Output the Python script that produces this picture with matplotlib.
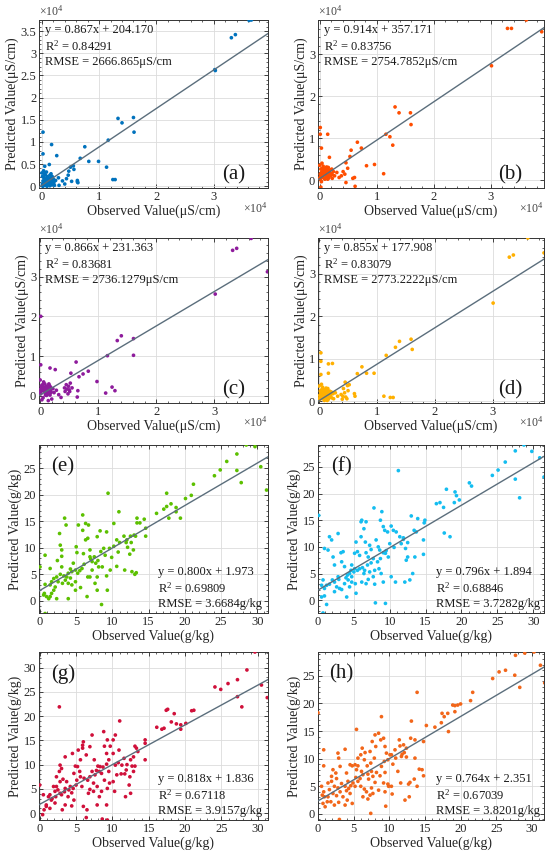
import numpy as np
import matplotlib
matplotlib.use("Agg")
import matplotlib.pyplot as plt
from matplotlib.ticker import FormatStrFormatter, AutoMinorLocator, MultipleLocator

plt.rcParams['font.family'] = ['Liberation Serif', 'DejaVu Serif']
plt.rcParams['mathtext.fontset'] = 'custom'
plt.rcParams['mathtext.rm'] = 'Liberation Serif'
plt.rcParams['mathtext.it'] = 'Liberation Serif:italic'
plt.rcParams['mathtext.default'] = 'rm'
plt.rcParams['axes.unicode_minus'] = False

# ---- data (EC panels in units of 1e4 uS/cm) ----
pts_a = [(3.62,3.74),(3.66,3.75),(3.31,3.35),(3.38,3.42),(3.02,2.63),(3.03,2.61),
         (1.33,1.53),(1.40,1.43),(1.60,1.55),(1.61,1.22),(1.16,1.04),
         (1.13,0.43),(1.24,0.15),(1.28,0.15),(0.99,0.56),(0.82,0.56),
         (0.75,0.89),(0.67,0.63),(0.62,0.10),(0.63,0.08),(0.62,0.13),
         (0.56,0.38),(0.50,0.43),(0.47,0.34),(0.46,0.25),(0.43,0.17),(0.52,0.11),
         (0.26,0.69),(0.17,0.94),(0.13,0.49),(0.02,1.22),(0.02,0.73),(0.05,0.45),
         (0.29,0.19),(0.36,0.12),(0.55,0.46),(0.40,0.05),(0.30,0.02),
         (0.01,0.05),(0.02,0.12),(0.03,0.20),(0.04,0.28),(0.05,0.10),(0.06,0.02),
         (0.07,0.15),(0.08,0.06),(0.09,0.22),(0.10,0.12),(0.11,0.04),(0.12,0.18),
         (0.13,0.10),(0.14,0.25),(0.15,0.07),(0.16,0.14),(0.17,0.20),(0.18,0.03),
         (0.19,0.11),(0.20,0.16),(0.00,0.30),(0.01,0.22),(0.03,0.35),(0.06,0.26),
         (0.08,0.32),(0.10,0.05),(0.12,0.08),(0.14,0.01),(0.16,0.28),(0.18,0.22),
         (0.21,0.08),(0.22,0.02),(0.24,0.13),(0.02,0.00),(0.04,0.07),(0.07,0.10),
         (0.09,0.00),(0.11,0.14),(0.13,0.16),(0.15,0.12),(0.05,0.17),(0.01,0.01),
         (0.03,0.04),(0.10,0.20),(0.06,0.09)]

pts_b = [(3.62,3.81),(3.29,3.61),(3.36,3.61),(3.89,3.53),(3.01,2.72),
         (1.32,1.74),(1.39,1.60),(1.59,1.60),(1.60,1.32),(1.16,1.09),(1.23,1.03),
         (1.28,0.83),(1.12,0.15),(0.96,0.37),(0.82,0.34),(0.66,0.90),(0.73,0.76),
         (0.55,0.71),(0.53,0.56),(0.61,0.06),(0.62,-0.15),(0.58,0.04),
         (0.46,0.41),(0.49,0.28),(0.41,0.20),(0.38,0.10),(0.46,-0.06),(0.44,0.14),
         (0.14,1.09),(0.17,0.54),(0.03,0.76),(0.01,1.25),(0.01,1.09),(0.02,-0.17),
         (0.30,0.18),(0.26,0.10),(0.34,0.06),(0.22,0.04),
         (0.01,0.02),(0.02,0.10),(0.03,0.18),(0.04,0.27),(0.05,0.06),(0.06,0.33),
         (0.07,0.12),(0.08,0.22),(0.09,0.02),(0.10,0.15),(0.11,0.28),(0.12,0.08),
         (0.13,0.20),(0.14,0.12),(0.15,0.30),(0.16,0.05),(0.17,0.18),(0.18,0.24),
         (0.19,0.10),(0.20,0.16),(0.21,0.26),(0.22,0.13),(0.00,0.35),(0.02,0.26),
         (0.04,0.40),(0.06,0.15),(0.08,0.04),(0.10,0.24),(0.12,0.31),(0.14,0.02),
         (0.16,0.22),(0.18,0.14),(0.24,0.20),(0.00,0.05),(0.03,-0.04),(0.05,0.20),
         (0.09,0.12),(0.11,0.19),(0.13,0.26),(0.15,0.09),(0.07,0.28),(0.01,0.14)]

pts_c = [(3.64,3.96),(3.32,3.66),(3.39,3.71),(3.92,3.12),(3.02,2.56),
         (1.33,1.39),(1.40,1.51),(1.61,1.44),(1.61,1.02),(1.16,1.01),
         (1.13,0.07),(1.24,0.22),(1.29,0.13),(0.98,0.36),(0.83,0.62),
         (0.74,0.55),(0.67,0.48),(0.62,0.85),(0.53,0.57),(0.64,-0.03),(0.65,0.13),
         (0.49,0.24),(0.46,0.17),(0.51,0.11),(0.43,0.11),(0.52,0.32),(0.48,0.05),
         (0.45,0.28),(0.55,0.20),(0.42,0.20),(0.50,0.15),
         (0.26,0.66),(0.17,0.70),(0.01,2.00),(0.01,0.78),(0.32,0.03),(0.36,-0.04),
         (0.28,0.14),(0.22,0.18),(0.24,0.08),
         (0.01,0.05),(0.02,0.12),(0.03,0.20),(0.04,0.28),(0.05,-0.05),(0.06,0.35),
         (0.07,0.10),(0.08,0.18),(0.09,0.02),(0.10,0.14),(0.11,0.24),(0.12,0.06),
         (0.13,0.19),(0.14,0.11),(0.15,0.30),(0.16,0.04),(0.17,0.16),(0.18,0.22),
         (0.19,0.09),(0.20,-0.08),(0.00,0.40),(0.02,0.25),(0.04,0.15),(0.06,0.21),
         (0.08,0.30),(0.10,0.07),(0.12,0.16),(0.14,-0.12),(0.16,0.26),(0.18,0.12),
         (0.00,0.10),(0.03,-0.10),(0.05,0.16),(0.09,0.11),(0.11,0.01),(0.13,0.25),
         (0.07,0.22),(0.01,0.17),(0.15,0.14),(0.17,0.02)]

pts_d = [(3.61,3.84),(3.29,3.39),(3.36,3.44),(3.89,3.49),(3.01,2.31),
         (1.32,1.27),(1.39,1.41),(1.59,1.46),(1.61,1.22),(1.16,1.08),
         (1.12,0.12),(1.23,0.09),(1.28,0.09),(0.95,0.66),(0.82,0.66),
         (0.74,0.81),(0.66,0.65),(0.61,0.18),(0.62,0.12),
         (0.45,0.45),(0.49,0.37),(0.42,0.30),(0.38,0.16),(0.46,0.10),(0.52,0.39),
         (0.41,0.12),(0.44,0.20),(0.48,0.06),(0.40,0.05),(0.50,0.25),
         (0.23,0.89),(0.16,0.66),(0.16,0.88),(0.03,1.14),(0.03,0.94),(0.03,0.63),
         (0.28,0.20),(0.32,0.12),(0.25,0.06),
         (0.01,0.04),(0.02,0.11),(0.03,0.19),(0.04,0.27),(0.05,0.07),(0.06,0.33),
         (0.07,0.13),(0.08,0.21),(0.09,0.02),(0.10,0.15),(0.11,0.28),(0.12,0.09),
         (0.13,0.18),(0.14,0.12),(0.15,0.30),(0.16,0.05),(0.17,0.17),(0.18,0.24),
         (0.19,0.10),(0.20,0.15),(0.21,0.22),(0.22,0.08),(0.00,0.36),(0.02,0.24),
         (0.04,0.40),(0.06,0.16),(0.08,0.05),(0.10,0.23),(0.12,0.31),(0.14,0.02),
         (0.16,0.21),(0.18,0.13),(0.24,0.18),(0.00,0.06),(0.05,0.20),(0.09,0.12),
         (0.11,0.19),(0.13,0.26),(0.15,0.09),(0.07,0.28),(0.01,0.14)]

# ---- SOM panels (g/kg) ----
pts_e = [(28.5,29.4),(29.7,29.1),(27.2,27.7),(25.8,26.3),(24.9,24.7),(24.1,23.6),(27.2,24.6),
         (27.8,22.3),(30.5,25.3),(31.3,20.9),(21.2,22.0),(20.9,19.9),(20.1,19.3),(19.4,15.6),
         (18.8,17.6),(18.8,16.8),(18.1,18.3),(17.5,20.3),(17.5,17.8),(17.1,17.3),(17.8,15.6),
         (16.1,16.5),(14.6,13.7),(14.6,12.2),(14.4,15.4),(13.4,15.6),(13.4,14.7),(13.8,14.7),
         (13.2,12.2),(13.0,12.4),(13.1,5.0),(12.7,5.5),(13.3,5.3),(12.5,12.2),(12.0,11.5),
         (11.9,11.0),(11.6,12.2),(12.1,10.1),(12.4,8.8),(11.7,5.8),(12.9,9.6),(10.9,16.8),
         (9.4,20.3),(10.2,14.6),(10.6,11.5),(10.6,6.5),(9.7,5.8),(9.2,4.7),(9.3,2.0),(8.5,-0.7),
         (9.6,9.9),(8.8,9.9),(8.4,9.3),(9.0,8.6),(8.3,13.2),(9.2,13.0),(7.9,12.1),(7.5,8.3),
         (7.2,7.4),(7.7,7.1),(8.1,6.4),(8.6,6.4),(7.9,4.5),(7.6,3.3),(7.9,2.0),(6.3,14.6),
         (6.7,14.3),(5.9,16.2),(5.9,13.3),(5.3,14.3),(6.3,11.5),(6.6,11.8),(6.0,8.9),(6.9,9.6),
         (6.9,8.3),(7.2,5.8),(6.6,4.5),(6.5,0.8),(6.9,4.5),(5.0,10.2),(5.1,9.1),(4.6,7.1),
         (4.4,5.5),(4.9,5.8),(5.2,5.2),(5.8,6.1),(3.9,5.2),(4.2,4.3),(3.7,4.5),(3.5,3.9),
         (3.9,3.3),(4.4,3.0),(4.9,3.6),(3.4,15.6),(3.6,14.3),(2.7,12.7),(2.8,10.5),(3.0,9.6),
         (3.0,8.4),(2.4,7.6),(3.0,6.4),(2.3,4.5),(2.5,3.6),(2.1,2.6),(1.9,4.2),(1.4,3.0),
         (1.6,3.6),(1.9,2.0),(2.3,0.4),(3.1,3.3),(1.4,6.1),(0.7,3.1),(0.6,1.4),(0.9,0.8),
         (1.2,0.4),(1.4,0.8),(0.7,8.6),(0.0,6.4),(0.7,-2.4),(0.5,1.1),(1.6,1.4),(3.9,0.4),
         (5.6,2.5),(4.9,2.0),(11.0,11.0),(10.2,10.3),(8.0,7.6),(5.5,5.7),(4.2,6.0),(2.8,5.0),
         (3.3,4.7),(6.1,6.9),(7.0,7.9),(10.8,9.2),(12.6,11.0),(9.9,8.2)]

pts_f = [(28.7,29.1),(27.5,28.0),(29.8,27.9),(30.9,26.7),(26.1,25.9),(25.1,24.4),(24.3,23.4),
         (27.5,22.7),(28.1,19.2),(31.5,23.1),(21.1,22.0),(21.4,21.4),(17.9,20.8),(19.1,20.3),
         (19.3,19.6),(19.0,18.3),(19.7,18.8),(17.5,17.4),(17.0,18.3),(16.5,18.1),(17.6,12.6),
         (18.4,11.9),(14.9,15.0),(14.8,14.5),(13.9,15.3),(13.0,15.8),(13.4,13.1),(13.7,12.8),
         (14.7,11.3),(14.7,8.6),(13.5,8.1),(13.2,5.0),(12.8,3.8),(12.1,3.4),(11.4,11.9),
         (11.9,11.4),(12.5,10.8),(12.2,9.7),(11.6,10.6),(11.2,24.3),(12.3,7.5),(12.5,8.1),
         (10.2,13.9),(10.5,13.1),(9.7,12.8),(10.9,12.8),(10.0,10.6),(10.2,4.4),(10.8,3.4),
         (9.1,3.4),(9.4,-0.6),(8.0,-0.5),(8.9,16.6),(8.7,15.0),(9.1,13.8),(9.3,13.1),(8.1,11.3),
         (8.4,10.0),(8.6,9.4),(9.1,8.9),(9.4,8.8),(9.8,8.1),(8.7,7.8),(8.3,7.2),(8.5,5.9),
         (7.9,5.6),(8.8,5.0),(7.8,17.3),(6.7,14.7),(6.4,13.4),(6.1,15.0),(6.0,14.7),(6.0,11.9),
         (6.6,10.9),(7.2,10.3),(7.4,9.5),(6.7,8.9),(7.0,8.1),(7.7,7.8),(7.4,7.0),(6.9,6.6),
         (6.5,5.6),(7.2,5.3),(6.4,5.0),(7.7,4.4),(7.0,3.9),(6.1,3.4),(6.7,3.1),(7.9,3.0),
         (5.3,10.9),(5.5,9.1),(5.1,8.8),(5.8,8.4),(4.7,6.6),(5.1,5.9),(5.5,5.6),(5.0,5.3),
         (4.4,5.0),(4.1,4.7),(4.7,4.4),(4.2,3.8),(5.2,3.1),(5.3,1.3),(4.4,2.5),(4.0,0.6),
         (3.7,6.3),(3.3,7.2),(3.5,9.1),(3.2,8.9),(2.8,12.5),(2.3,6.6),(2.1,8.1),(1.6,11.9),
         (1.9,11.3),(2.8,4.4),(2.3,3.4),(2.0,3.8),(1.6,3.0),(2.6,2.5),(3.0,2.2),(2.3,1.6),
         (1.2,2.8),(0.9,2.2),(0.5,2.8),(0.7,3.8),(0.5,0.6),(0.9,0.8),(1.2,-0.8),(0.7,-2.4),
         (0.9,9.7),(0.1,15.9),(1.4,9.4),(3.7,3.1),(3.3,2.0),(4.7,3.4),(5.8,5.9),(4.6,5.6),
         (6.2,6.1),(3.9,4.2),(2.9,3.9),(10.6,9.9),(11.9,11.7),(9.5,9.3)]

pts_g = [(29.6,33.2),(28.5,29.5),(27.2,27.5),(25.9,26.7),(24.9,25.5),(24.1,26.0),(27.2,24.0),
         (27.8,21.9),(30.5,26.4),(31.3,23.8),(21.2,21.2),(20.9,21.1),(20.1,18.5),(19.4,17.3),
         (18.8,18.4),(18.5,20.5),(18.1,18.8),(17.6,21.4),(17.4,21.2),(17.1,17.5),(16.8,17.3),
         (16.1,17.7),(19.4,18.2),(14.5,15.1),(14.5,14.4),(14.5,11.0),(13.3,13.4),(13.5,12.7),
         (13.1,13.8),(12.9,11.6),(12.5,11.0),(12.7,9.7),(13.1,9.7),(12.9,8.6),(12.4,7.5),
         (12.3,5.8),(12.5,4.1),(11.8,3.4),(11.6,11.3),(11.3,9.9),(11.9,8.9),(11.7,8.1),
         (11.2,8.1),(10.9,13.0),(11.0,19.0),(10.4,16.1),(10.1,15.1),(9.7,13.8),(10.1,12.3),
         (10.4,9.9),(10.6,7.9),(10.1,6.5),(10.3,4.5),(9.3,15.1),(8.8,16.8),(9.2,12.3),
         (8.9,13.8),(9.5,11.0),(9.2,10.1),(8.7,9.5),(8.3,9.6),(8.2,8.6),(8.5,8.2),(9.5,8.6),
         (8.9,6.8),(9.6,6.2),(9.3,5.1),(8.5,4.5),(8.2,3.4),(9.2,1.7),(9.3,-1.4),(8.6,-1.2),
         (7.2,16.1),(6.9,13.7),(7.5,11.0),(8.0,9.7),(7.2,8.6),(7.6,7.9),(6.9,7.5),(6.6,6.8),
         (7.4,6.2),(7.9,5.5),(6.9,4.9),(7.4,4.5),(6.7,4.1),(7.9,1.7),(6.5,0.7),(6.4,-0.9),
         (6.0,1.4),(5.9,14.0),(5.9,13.4),(6.0,14.7),(5.3,13.0),(6.4,12.0),(5.6,11.0),(5.2,9.6),
         (4.9,9.7),(5.5,8.6),(4.7,8.2),(5.6,7.5),(5.1,6.8),(5.0,5.8),(5.8,5.5),(4.6,5.1),
         (4.2,5.5),(4.4,4.2),(3.9,3.4),(4.7,2.7),(3.5,1.7),(4.5,12.3),(3.5,11.6),(2.8,9.9),
         (3.0,9.2),(2.7,8.6),(2.3,7.5),(2.8,6.5),(2.3,5.5),(2.5,4.8),(2.8,4.1),(2.2,3.4),
         (2.7,21.9),(2.1,4.5),(3.2,7.0),(3.7,6.5),(3.5,5.1),(3.0,3.8),(1.9,5.5),(1.4,3.8),
         (1.2,3.4),(1.6,2.7),(0.9,1.7),(0.6,0.7),(0.4,-0.3),(0.5,3.8),(0.0,5.8),(0.9,1.4),
         (1.4,1.0),(2.1,2.1),(3.1,0.7),(4.4,1.5),(6.1,7.2),(4.0,4.8),(10.8,10.4),(12.0,10.0),
         (7.8,8.8),(3.4,4.4),(1.7,3.0)]

pts_h = [(30.3,29.3),(29.0,29.1),(27.7,28.7),(31.2,26.9),(26.3,26.0),(25.4,25.7),(24.5,24.5),
         (27.6,25.1),(28.3,22.9),(31.8,23.7),(21.7,22.0),(21.4,20.5),(20.0,19.9),(19.6,19.7),
         (19.2,19.6),(19.2,18.5),(18.9,19.7),(18.2,18.2),(17.7,17.6),(17.4,18.2),(17.3,16.5),
         (18.3,14.9),(16.4,15.7),(15.2,16.0),(13.9,22.0),(13.1,16.8),(13.0,13.7),(13.6,13.4),
         (14.8,13.1),(14.6,8.0),(14.8,6.9),(14.2,8.1),(13.6,10.1),(13.5,6.3),(13.9,5.0),
         (12.9,5.7),(12.7,5.4),(12.8,3.1),(12.2,2.5),(12.0,12.5),(12.4,11.9),(12.1,11.1),
         (11.7,10.4),(12.4,10.3),(11.4,13.4),(11.5,12.3),(10.8,11.6),(10.3,10.7),(10.9,10.1),
         (11.2,7.7),(11.6,5.6),(10.4,3.6),(10.3,5.0),(9.9,5.0),(8.9,17.6),(9.2,13.7),(8.8,13.4),
         (9.4,12.2),(8.5,14.6),(9.6,11.0),(10.1,10.7),(9.8,9.8),(9.3,9.5),(8.9,8.6),(9.4,7.5),
         (8.7,6.9),(9.2,5.6),(9.8,5.4),(9.4,4.0),(9.5,1.4),(8.0,14.3),(7.6,13.1),(8.1,12.2),
         (7.3,11.3),(7.9,10.1),(7.4,9.2),(6.9,8.7),(7.5,7.7),(8.2,7.5),(7.7,6.8),(7.1,6.3),
         (8.0,5.7),(7.5,4.7),(8.5,4.3),(7.7,3.7),(7.3,3.4),(7.4,0.1),(5.4,15.3),(6.2,11.9),
         (6.0,10.7),(5.6,10.1),(6.6,11.1),(6.5,9.8),(5.2,8.9),(5.6,8.7),(5.4,8.0),(6.1,7.7),
         (6.3,7.1),(5.3,6.6),(5.6,5.9),(4.9,5.6),(5.2,5.0),(6.0,5.0),(6.5,4.5),(6.8,4.0),
         (6.3,3.1),(7.0,2.7),(4.5,8.9),(4.8,8.7),(4.0,7.4),(3.8,11.7),(4.2,5.9),(4.6,5.1),
         (3.8,5.0),(4.0,4.2),(4.5,3.7),(3.5,3.1),(4.1,2.5),(3.8,1.6),(4.8,1.9),(2.8,11.0),
         (2.9,10.1),(3.1,8.6),(2.5,7.4),(2.1,8.0),(1.9,6.8),(2.6,6.4),(1.9,5.9),(2.3,5.0),
         (2.8,4.7),(1.6,4.4),(2.1,3.7),(2.6,3.3),(3.1,4.0),(1.4,3.1),(1.8,2.2),(2.9,2.1),
         (2.3,1.6),(3.0,-1.0),(0.8,11.6),(0.8,8.7),(0.5,5.0),(0.8,4.0),(0.6,3.4),(0.9,3.1),
         (0.7,1.9),(1.0,1.3),(1.3,2.2),(0.0,18.3),(1.4,5.6),(3.3,5.5),(4.3,4.6),(5.9,6.4),
         (10.5,9.0),(11.8,10.8),(7.0,7.2)]

slopes = [0.867, 0.914, 0.866, 0.855, 0.800, 0.796, 0.818, 0.764]
intercepts = [204.170 / 1e4, 357.171 / 1e4, 231.363 / 1e4, 177.908 / 1e4,
              1.973, 1.894, 1.836, 2.351]
eq_txt = ['y = 0.867x + 204.170', 'y = 0.914x + 357.171', 'y = 0.866x + 231.363',
          'y = 0.855x + 177.908', 'y = 0.800x + 1.973', 'y = 0.796x + 1.894',
          'y = 0.818x + 1.836', 'y = 0.764x + 2.351']
r2_txt = ['0.84291', '0.83756', '0.83681', '0.83079', '0.69809', '0.68846', '0.67118', '0.67039']
rmse_txt = ['2666.865μS/cm', '2754.7852μS/cm', '2736.1279μS/cm', '2773.2222μS/cm',
            '3.6684g/kg', '3.7282g/kg', '3.9157g/kg', '3.8201g/kg']
letters = ['(a)', '(b)', '(c)', '(d)', '(e)', '(f)', '(g)', '(h)']
colors = ['#0072BD', '#FF4D00', '#8E1B9C', '#FFB000', '#5CC000', '#14BDF0', '#D0103A', '#F2661A']
xlims = [(-0.05, 3.95), (-0.03, 3.93), (-0.02, 3.93), (-0.02, 3.89),
         (-0.14, 31.5), (0.0, 31.5), (-0.1, 31.4), (0.0, 31.7)]
ylims = [(-0.04, 3.75), (-0.19, 3.81), (-0.18, 3.97), (-0.04, 3.84),
         (-2.3, 29.4), (-2.4, 29.1), (-1.4, 33.2), (-1.1, 29.3)]
all_pts = [pts_a, pts_b, pts_c, pts_d, pts_e, pts_f, pts_g, pts_h]

fig = plt.figure(figsize=(5.5, 8.58), dpi=100)
W, H = 550.0, 858.0
cols = [(39, 268), (318, 544)]
rows = [(20, 188), (238, 403), (445, 613), (652, 820)]
tick_col = '#262626'

for i in range(8):
    r, c = divmod(i, 2)
    x0, x1 = cols[c]
    y0, y1 = rows[r]
    ax = fig.add_axes([x0 / W, 1 - y1 / H, (x1 - x0) / W, (y1 - y0) / H])
    pts = np.array(all_pts[i])
    ax.scatter(pts[:, 0], pts[:, 1], s=7, color=colors[i], edgecolors='none', zorder=3)
    xl = np.array(xlims[i])
    ax.plot(xl, slopes[i] * xl + intercepts[i], color='#5b6e7c', lw=1.0, zorder=4)
    ax.set_xlim(*xlims[i])
    ax.set_ylim(*ylims[i])
    ec = i < 4
    if ec:
        ax.xaxis.set_major_locator(MultipleLocator(1))
        ax.yaxis.set_major_locator(MultipleLocator(0.5 if i == 0 else 1))
        unit = 'μS/cm'
    else:
        ax.xaxis.set_major_locator(MultipleLocator(5))
        ax.yaxis.set_major_locator(MultipleLocator(5))
        unit = 'g/kg'
    ax.xaxis.set_major_formatter(FormatStrFormatter('%g'))
    ax.yaxis.set_major_formatter(FormatStrFormatter('%g'))
    ax.xaxis.set_minor_locator(AutoMinorLocator(5))
    ax.yaxis.set_minor_locator(AutoMinorLocator(5))
    ax.tick_params(which='both', direction='in', top=True, right=True,
                   labelsize=9, colors=tick_col, pad=2)
    ax.tick_params(which='major', length=3, width=0.6)
    ax.tick_params(which='minor', length=1.5, width=0.5)
    ax.grid(True, which='major', color='#dcdcdc', lw=0.6, zorder=0)
    ax.set_axisbelow(True)
    for sp in ax.spines.values():
        sp.set_linewidth(0.7)
        sp.set_color('#333333')
    ax.set_xlabel('Observed Value(%s)' % unit, fontsize=10, color=tick_col, labelpad=1)
    ax.set_ylabel('Predicted Value(%s)' % unit, fontsize=10, color=tick_col, labelpad=1)
    stats = '%s\nR$^2$ = %s\nRMSE = %s' % (eq_txt[i], r2_txt[i], rmse_txt[i])
    if ec:
        ax.text(0.025, 0.975, stats, transform=ax.transAxes, ha='left', va='top',
                fontsize=9, linespacing=1.25, color='#1a1a1a', zorder=5)
        ax.text(0.85, 0.08, letters[i], transform=ax.transAxes, ha='center', va='center',
                fontsize=15, color='#1a1a1a')
        ax.text(0.0, 1.01, '×10$^4$', transform=ax.transAxes, ha='left', va='bottom',
                fontsize=8.5, color='#444444')
        ax.text(1.0, -0.075, '×10$^4$', transform=ax.transAxes, ha='right', va='top',
                fontsize=8.5, color='#444444')
    else:
        ax.text(0.52, 0.02, stats, transform=ax.transAxes, ha='left', va='bottom',
                fontsize=9, linespacing=1.25, color='#1a1a1a', zorder=5)
        ax.text(0.105, 0.87, letters[i], transform=ax.transAxes, ha='center', va='center',
                fontsize=15, color='#1a1a1a')

fig.savefig('out.png', dpi=100)
